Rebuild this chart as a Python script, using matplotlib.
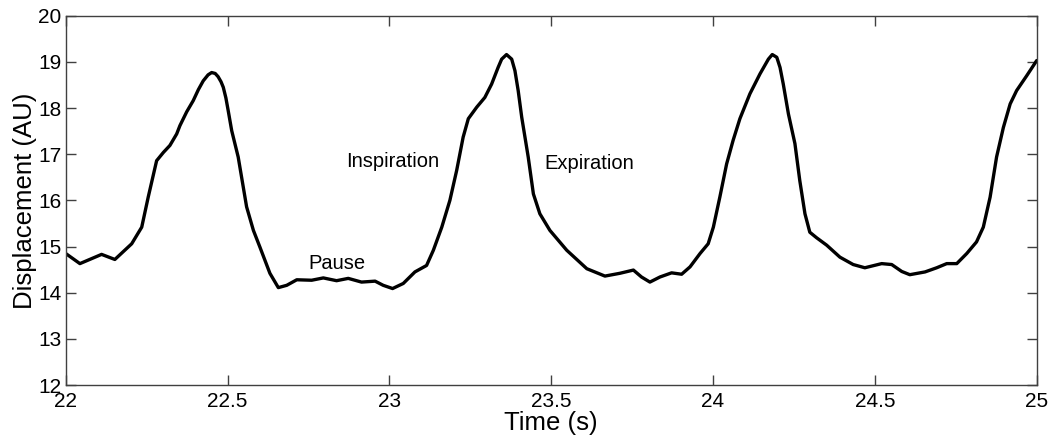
import matplotlib
matplotlib.use("Agg")
import matplotlib.pyplot as plt

plt.rcParams['font.family'] = ['Liberation Sans', 'DejaVu Sans']

time_s = [22.000, 22.044, 22.111, 22.152, 22.204, 22.235, 22.255, 22.281, 22.302, 22.322,
          22.343, 22.353, 22.374, 22.394, 22.410, 22.425, 22.440, 22.451, 22.462, 22.471,
          22.480, 22.487, 22.495, 22.502, 22.513, 22.533, 22.559,
          22.580, 22.600, 22.631, 22.657, 22.683, 22.714, 22.760, 22.796, 22.837, 22.873,
          22.914, 22.956, 22.981, 23.010, 23.043, 23.079, 23.115, 23.136, 23.162, 23.187,
          23.208, 23.228, 23.244, 23.270, 23.295, 23.316, 23.336, 23.347, 23.362, 23.378,
          23.388, 23.398, 23.409, 23.429, 23.445, 23.465, 23.496, 23.548, 23.610, 23.666,
          23.712, 23.754, 23.779, 23.805, 23.836, 23.872, 23.903, 23.929, 23.960, 23.985,
          24.001, 24.021, 24.042, 24.062, 24.083, 24.114, 24.145, 24.171, 24.183, 24.197,
          24.207, 24.217, 24.233, 24.253, 24.268, 24.284, 24.299, 24.320, 24.351, 24.392,
          24.433, 24.469, 24.521, 24.552, 24.583, 24.608, 24.655, 24.691, 24.722, 24.753,
          24.784, 24.814, 24.835, 24.856, 24.876, 24.897, 24.918, 24.938, 24.969, 25.000]
displacement = [14.85, 14.63, 14.83, 14.72, 15.06, 15.42, 16.07, 16.86, 17.04, 17.19,
                17.44, 17.62, 17.92, 18.16, 18.40, 18.59, 18.72, 18.77, 18.75, 18.68,
                18.57, 18.45, 18.22, 17.95, 17.51, 16.94, 15.86,
                15.35, 14.99, 14.42, 14.11, 14.16, 14.28, 14.27, 14.32, 14.26, 14.31,
                14.23, 14.25, 14.16, 14.09, 14.20, 14.45, 14.59, 14.92, 15.42, 16.00,
                16.65, 17.37, 17.77, 18.02, 18.23, 18.52, 18.88, 19.06, 19.16, 19.06,
                18.81, 18.38, 17.80, 16.94, 16.14, 15.71, 15.35, 14.92, 14.52, 14.36,
                14.42, 14.49, 14.34, 14.23, 14.34, 14.43, 14.40, 14.56, 14.85, 15.06,
                15.42, 16.07, 16.79, 17.30, 17.77, 18.31, 18.74, 19.06, 19.16, 19.10,
                18.88, 18.52, 17.87, 17.23, 16.43, 15.71, 15.31, 15.19, 15.03, 14.77,
                14.61, 14.54, 14.63, 14.61, 14.46, 14.39, 14.45, 14.54, 14.63, 14.63,
                14.85, 15.10, 15.42, 16.07, 16.94, 17.58, 18.09, 18.38, 18.70, 19.03]

x_ticks = [22, 22.5, 23, 23.5, 24, 24.5, 25]
x_tick_labels = ['22', '22.5', '23', '23.5', '24', '24.5', '25']
y_ticks = [12, 13, 14, 15, 16, 17, 18, 19, 20]

annot_text = ['Inspiration', 'Expiration', 'Pause']
annot_x = [23.01, 23.617, 22.837]
annot_y = [16.84, 16.80, 14.64]

fig = plt.figure(figsize=(10.54, 4.38), dpi=100)
ax = fig.add_axes([0.0623, 0.121, 0.9213, 0.843])
ax.plot(time_s, displacement, color='black', lw=2.4, solid_joinstyle='round', solid_capstyle='round')
ax.set_xlim(22, 25)
ax.set_ylim(12, 20)
ax.set_xticks(x_ticks)
ax.set_xticklabels(x_tick_labels)
ax.set_yticks(y_ticks)
ax.tick_params(direction='in', length=7, width=1, top=True, right=True, labelsize=15,
               color='#404040', labelcolor='black')
ax.tick_params(axis='x', pad=5)
ax.tick_params(axis='y', pad=3)
for s in ax.spines.values():
    s.set_color('#404040')
    s.set_linewidth(1)
ax.set_xlabel('Time (s)', fontsize=18.5, labelpad=0)
ax.set_ylabel('Displacement (AU)', fontsize=18.5, labelpad=1)
for t, xx, yy in zip(annot_text, annot_x, annot_y):
    ax.text(xx, yy, t, fontsize=14.5, ha='center', va='center')

fig.savefig('out.png', dpi=100)
